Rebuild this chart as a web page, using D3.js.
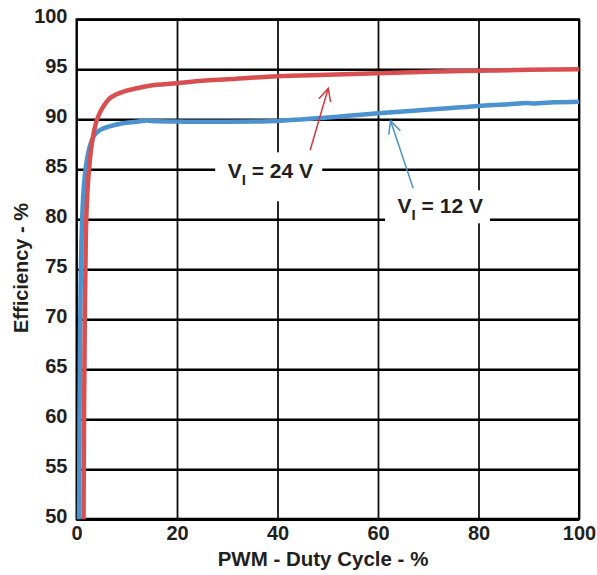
<!DOCTYPE html>
<html>
<head>
<meta charset="utf-8">
<script src="https://cdn.jsdelivr.net/npm/d3@7"></script>
<style>
  body { margin: 0; background: #fff; }
  svg { display: block; font-family: "Liberation Sans", Arial, sans-serif; font-weight: bold; }
</style>
</head>
<body>
<svg id="chart"></svg>
<script>
// duty cycle (%) and efficiency (%)
const DUTY_24V = [1.4, 1.5, 1.65, 1.85, 2.1, 2.5, 2.9, 3.2, 3.8, 4.6, 5.5, 6.6, 8, 9.5, 12, 14.5, 20, 25, 30, 40, 50, 60, 70, 80, 90, 100];
const EFF_24V = [50, 60, 70, 78, 82, 85, 87, 88, 89.5, 90.6, 91.4, 92.1, 92.5, 92.8, 93.1, 93.35, 93.6, 93.85, 94.0, 94.3, 94.45, 94.6, 94.75, 94.85, 94.95, 95.0];

const DUTY_12V = [0.5, 0.6, 0.75, 1.0, 1.3, 1.8, 2.5, 3.1, 3.9, 4.6, 6.6, 9.2, 12, 14, 16, 20, 25, 30, 36, 42, 48, 54, 60, 67, 74, 80, 86, 89.6, 91, 95, 100];
const EFF_12V = [50, 60, 70, 78, 82, 85, 87, 88, 88.6, 88.9, 89.3, 89.6, 89.75, 89.88, 89.8, 89.78, 89.75, 89.75, 89.77, 89.9, 90.1, 90.35, 90.6, 90.86, 91.1, 91.33, 91.5, 91.62, 91.58, 91.7, 91.76];

const X_TICKS = [0, 20, 40, 60, 80, 100];
const Y_TICKS = [50, 55, 60, 65, 70, 75, 80, 85, 90, 95, 100];

// callouts: label anchor, white box, arrow from -> to (data units)
const LABELS = [
  { volts: "24 V", color: "#d6353c", tx: 30.1, ty: 84.16, box: [27.6, 48.9, 86.7, 81.8], from: [46.5, 86.9], to: [50.1, 93.1] },
  { volts: "12 V", color: "#4b92cf", tx: 63.9, ty: 80.6, box: [61.4, 82.3, 82.9, 79.6], from: [67.0, 83.1], to: [62.5, 89.86] },
];

const WIDTH = 597;
const HEIGHT = 575;
const MARGIN = { top: 19.3, right: 18, bottom: 55.7, left: 76.5 };
const W = WIDTH - MARGIN.left - MARGIN.right;
const H = HEIGHT - MARGIN.top - MARGIN.bottom;
const TEXT = "#231f20";

const svg = d3.select("#chart").attr("width", WIDTH).attr("height", HEIGHT);
const chart = svg.append("g").attr("transform", `translate(${MARGIN.left},${MARGIN.top})`);

const x = d3.scaleLinear().domain([0, 100]).range([0, W]);
const y = d3.scaleLinear().domain([50, 100]).range([H, 0]);

// vertical grid + x labels
const xAxis = chart.append("g")
  .attr("transform", `translate(0,${H})`)
  .call(d3.axisBottom(x).tickValues(X_TICKS).tickSize(-H).tickPadding(7));
xAxis.select(".domain").remove();
xAxis.selectAll("line").attr("stroke", "#111").attr("stroke-width", 1.8);
xAxis.selectAll("text").attr("fill", TEXT).attr("font-size", 20).attr("font-weight", "bold");

// horizontal grid + y labels
const yAxis = chart.append("g")
  .call(d3.axisLeft(y).tickValues(Y_TICKS).tickSize(-W).tickPadding(9));
yAxis.select(".domain").remove();
yAxis.selectAll("line").attr("stroke", "#000").attr("stroke-width", 2.6);
yAxis.selectAll("text").attr("fill", TEXT).attr("font-size", 20).attr("font-weight", "bold").attr("dy", "0.18em");

// frame
chart.append("rect")
  .attr("width", W).attr("height", H)
  .attr("fill", "none").attr("stroke", "#000").attr("stroke-width", 2);
chart.append("line")
  .attr("x1", 0).attr("x2", W).attr("y1", H).attr("y2", H)
  .attr("stroke", "#000").attr("stroke-width", 3);

// curves
const line = d3.line().x((d) => x(d[0])).y((d) => y(d[1])).curve(d3.curveMonotoneX);

chart.append("path")
  .datum(d3.zip(DUTY_12V, EFF_12V))
  .attr("d", line)
  .attr("fill", "none").attr("stroke", "#4b92cf").attr("stroke-width", 4.5)
  .attr("stroke-linejoin", "round").attr("stroke-linecap", "butt");

chart.append("path")
  .datum(d3.zip(DUTY_24V, EFF_24V))
  .attr("d", line)
  .attr("fill", "none").attr("stroke", "#d94f50").attr("stroke-width", 4.5)
  .attr("stroke-linejoin", "round").attr("stroke-linecap", "butt");

// callout labels and arrows
LABELS.forEach((lab) => {
  chart.append("rect")
    .attr("x", x(lab.box[0]))
    .attr("y", y(lab.box[2]))
    .attr("width", x(lab.box[1]) - x(lab.box[0]))
    .attr("height", y(lab.box[3]) - y(lab.box[2]))
    .attr("fill", "#fff");

  const t = chart.append("text")
    .attr("x", x(lab.tx)).attr("y", y(lab.ty))
    .attr("fill", TEXT).attr("font-size", 21).attr("font-weight", "bold");
  t.append("tspan").text("V");
  t.append("tspan").attr("font-size", 15).attr("dy", 7).text("I");
  t.append("tspan").attr("dy", -7).text(` = ${lab.volts}`);

  const x1 = x(lab.from[0]), y1 = y(lab.from[1]);
  const x2 = x(lab.to[0]), y2 = y(lab.to[1]);
  chart.append("line")
    .attr("x1", x1).attr("y1", y1).attr("x2", x2).attr("y2", y2)
    .attr("stroke", lab.color).attr("stroke-width", 1.5);

  // open arrow head
  const ang = Math.atan2(y1 - y2, x1 - x2);
  const len = 14, spread = 0.45;
  const head = [ang - spread, ang + spread].map((a) => [x2 + len * Math.cos(a), y2 + len * Math.sin(a)]);
  chart.append("path")
    .attr("d", `M${head[0][0]},${head[0][1]}L${x2},${y2}L${head[1][0]},${head[1][1]}`)
    .attr("fill", "none").attr("stroke", lab.color).attr("stroke-width", 1.5);
});

// axis titles
svg.append("text")
  .attr("transform", "translate(28,268) rotate(-90)")
  .attr("text-anchor", "middle")
  .attr("fill", TEXT).attr("font-size", 20).attr("font-weight", "bold")
  .text("Efficiency - %");

svg.append("text")
  .attr("x", 323).attr("y", 566)
  .attr("text-anchor", "middle")
  .attr("fill", TEXT).attr("font-size", 20.5).attr("font-weight", "bold")
  .text("PWM - Duty Cycle - %");
</script>
</body>
</html>
